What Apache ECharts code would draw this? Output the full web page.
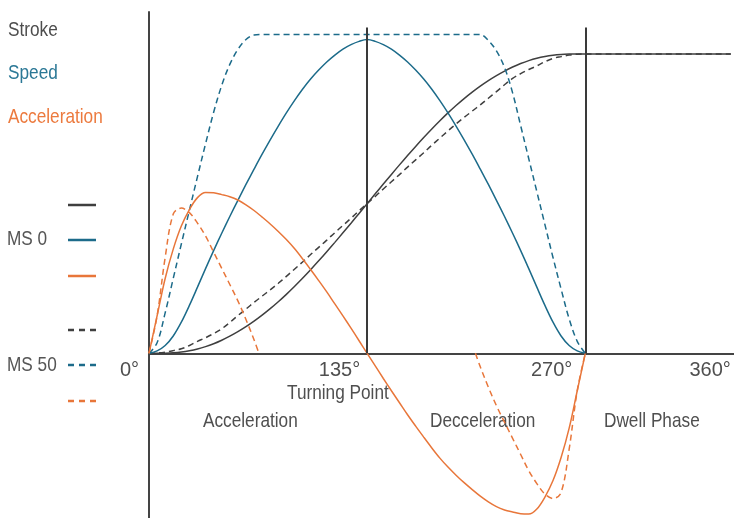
<!DOCTYPE html>
<html>
<head>
<meta charset="utf-8">
<title>MS 0 / MS 50</title>
<script src="https://cdn.jsdelivr.net/npm/echarts@6/dist/echarts.min.js"></script>
<style>
    html, body { margin: 0; padding: 0; background: #fff; }
    #display-chart { width: 734px; height: 518px; }
</style>
</head>
<body>
<div id="display-chart"></div>
<script>
// 角度 (0..270, 每5度)
var angles = [0,5,10,15,20,25,30,35,40,45,50,55,60,65,70,75,80,85,90,95,100,105,110,115,120,125,130,135,
    140,145,150,155,160,165,170,175,180,185,190,195,200,205,210,215,220,225,230,235,240,245,250,255,260,265,270];
var dwellAngle = 360;      // 停留段终点
var turnAngles = [135, 270]; // 竖线位置
var tickAngles = [0, 135, 270, 360];

// MS 0 (实线)
var stroke0 = [0,0.01,0.06,0.18,0.43,0.85,1.44,2.23,3.21,4.38,5.72,7.24,8.91,10.75,12.75,14.91,17.23,19.7,22.32,25.07,27.93,30.89,33.94,37.06,40.24,43.47,46.73,50,
    53.27,56.53,59.76,62.94,66.06,69.11,72.07,74.93,77.68,80.3,82.77,85.09,87.25,89.25,91.09,92.76,94.28,95.62,96.79,97.77,98.56,99.15,99.57,99.82,99.94,99.99,100];
var speed0 = [0,0.8,2.6,5.8,10.4,16,22.1,28.3,34.3,40.1,45.7,51.1,56.4,61.5,66.5,71.3,75.9,80.3,84.4,88.2,91.6,94.6,97.3,99.6,101.6,103.1,104.2,104.8,
    104.2,103.1,101.6,99.6,97.3,94.6,91.6,88.2,84.4,80.3,75.9,71.3,66.5,61.5,56.4,51.1,45.7,40.1,34.3,28.3,22.1,16,10.4,5.8,2.6,0.8,0];
var accel0 = [0,12.5,25,34.8,42.5,48,52,53.7,53.6,53,52.3,51.2,49.6,47.7,45.5,43.2,40.7,38,35,31.6,28,24.3,20.5,16.5,12.5,8.4,4.2,0,
    -4.2,-8.4,-12.5,-16.5,-20.5,-24.3,-28,-31.6,-35,-38,-40.7,-43.2,-45.5,-47.7,-49.6,-51.2,-52.3,-53,-53.6,-53.7,-52,-48,-42.5,-34.8,-25,-12.5,0];

// MS 50 (虚线)
var stroke50 = [0,0.1,0.4,0.9,1.5,2.6,4,5.2,6.6,8.2,10.3,12.6,14.8,17,19.1,21.2,23.4,25.7,28.1,30.5,33,35.4,37.8,40.3,42.7,45.1,47.6,50,
    52.4,54.9,57.3,59.7,62.2,64.6,67,69.5,71.9,74.3,76.6,78.8,80.9,83,85.2,87.4,89.7,91.8,93.4,94.8,96,97.4,98.5,99.1,99.6,99.9,100];
var speed50 = [0,3.5,13.5,25,36.5,47.8,59,70,80.5,89.5,96.5,101.5,104.8,106.3,106.5,
    106.5,106.5,106.5,106.5,106.5,106.5,106.5,106.5,106.5,106.5,106.5,106.5,106.5,106.5,
    106.5,106.5,106.5,106.5,106.5,106.5,106.5,106.5,106.5,106.5,106.5,106.5,106.5,
    104.5,101,95.5,87,76,65,54,43,32,21.5,11.5,4,0];
var accel50Angles = [0,5,10,15,20,25,30,35,40,45,50,55,60,65,68,135,202,205,210,215,220,225,230,235,240,245,250,255,260,265,270];
var accel50 = [0,12.5,32,46.5,48.5,47,43.5,39.2,33.8,28.4,23,17.5,11.3,4.5,0,null,0,-4.5,-11.3,-17.5,-23,-28.4,-33.8,-39.2,-43.5,-47,-48.5,-46.5,-32,-12.5,0];

var colorStroke = '#3f3f3f';
var colorSpeed = '#1c6b8a';
var colorAccel = '#e8763a';
var colorText = '#4f4f4f';
var fontNarrow = '"Liberation Sans", Arial, sans-serif';

//把角度和数值拼成点
function pairs(xs, ys) {
    var out = [];
    for (var i = 0; i < ys.length; i++) {
        out.push([xs[i], ys[i]]);
    }
    return out;
}

function makeLine(name, data, color, dashed) {
    return {
        name: name,
        type: 'line',
        data: data,
        showSymbol: false,
        smooth: 0.35,
        connectNulls: false,
        silent: true,
        lineStyle: {
            color: color,
            width: 1.5,
            type: dashed ? [6, 4] : 'solid'
        },
        z: 3
    };
}

//窄体文字: Liberation Sans 横向压缩
function narrowText(text, x, y, color) {
    return {
        type: 'text', x: x, y: y, scaleX: 0.82,
        style: { text: text, fill: color, fontSize: 21, fontFamily: fontNarrow, verticalAlign: 'middle' }
    };
}

function legendLine(y, color, dashed) {
    return {
        type: 'line',
        shape: { x1: 68, y1: y, x2: 96, y2: y },
        style: { stroke: color, lineWidth: 2.5, lineDash: dashed ? [6, 5] : null }
    };
}

function generateChart() {
    var myChart = echarts.init(document.getElementById('display-chart'));

    var strokeAngles = angles.concat([dwellAngle]);
    var s0 = makeLine('Stroke MS 0', pairs(strokeAngles, stroke0.concat([100])), colorStroke, false);
    //竖线: 转折点和停留段起点
    s0.markLine = {
        silent: true,
        symbol: 'none',
        label: { show: false },
        lineStyle: { color: '#3a3a3a', width: 2, type: 'solid' },
        data: turnAngles.map(function (a) {
            return [{ coord: [a, 0] }, { coord: [a, 108.8] }];
        })
    };

    var labelPad = { 0: 10, 135: 7, 270: 13, 360: 0 }; //标签右移量
    var rich = {};
    tickAngles.forEach(function (a) {
        rich['p' + a] = { padding: [0, labelPad[a], 0, 0], color: colorText, fontSize: 20, fontFamily: fontNarrow };
    });

    myChart.setOption({
        animation: false,
        grid: [
            { left: 149, right: 0, top: 12, bottom: 0, containLabel: false, outerBoundsMode: 'none' },
            { left: 149, right: 0, top: 12, bottom: 164, containLabel: false, outerBoundsMode: 'none' } //只放x轴刻度标签
        ],
        xAxis: [{
            type: 'value',
            gridIndex: 0,
            min: 0,
            max: 362,
            axisLine: { onZero: true, lineStyle: { color: '#444', width: 2 } },
            axisTick: { show: false },
            splitLine: { show: false },
            axisLabel: { show: false }
        }, {
            type: 'value',
            gridIndex: 1,
            min: 0,
            max: 362,
            axisLine: { show: false },
            axisTick: { show: false },
            splitLine: { show: false },
            axisLabel: {
                customValues: tickAngles,
                margin: 6,
                align: 'right',
                color: colorText,
                fontSize: 20,
                fontFamily: fontNarrow,
                formatter: function (v) {
                    return '{p' + v + '|' + v + '°}';
                },
                rich: rich
            }
        }],
        yAxis: [{
            type: 'value',
            gridIndex: 0,
            min: -55,
            max: 114,
            axisLine: { show: true, onZero: false, lineStyle: { color: '#444', width: 2 } },
            axisTick: { show: false },
            axisLabel: { show: false },
            splitLine: { show: false }
        }, {
            type: 'value',
            gridIndex: 1,
            show: false
        }],
        graphic: [
            narrowText('Stroke', 8, 30, '#4d4d4d'),
            narrowText('Speed', 8, 73, '#2b7896'),
            narrowText('Acceleration', 8, 117, '#ec7a3e'),
            narrowText('MS 0', 7, 239, '#555'),
            narrowText('MS 50', 7, 365, '#555'),
            legendLine(205, colorStroke, false),
            legendLine(240, colorSpeed, false),
            legendLine(276, colorAccel, false),
            legendLine(330, colorStroke, true),
            legendLine(365, colorSpeed, true),
            legendLine(401, colorAccel, true),
            narrowText('Turning Point', 287, 393, colorText),
            narrowText('Acceleration', 203, 421, colorText),
            narrowText('Decceleration', 430, 421, colorText),
            narrowText('Dwell Phase', 604, 421, colorText)
        ],
        series: [
            s0,
            makeLine('Stroke MS 50', pairs(strokeAngles, stroke50.concat([100])), colorStroke, true),
            makeLine('Speed MS 0', pairs(angles, speed0), colorSpeed, false),
            makeLine('Speed MS 50', pairs(angles, speed50), colorSpeed, true),
            makeLine('Acceleration MS 0', pairs(angles, accel0), colorAccel, false),
            makeLine('Acceleration MS 50', pairs(accel50Angles, accel50), colorAccel, true)
        ]
    });
}

generateChart();
</script>
</body>
</html>
